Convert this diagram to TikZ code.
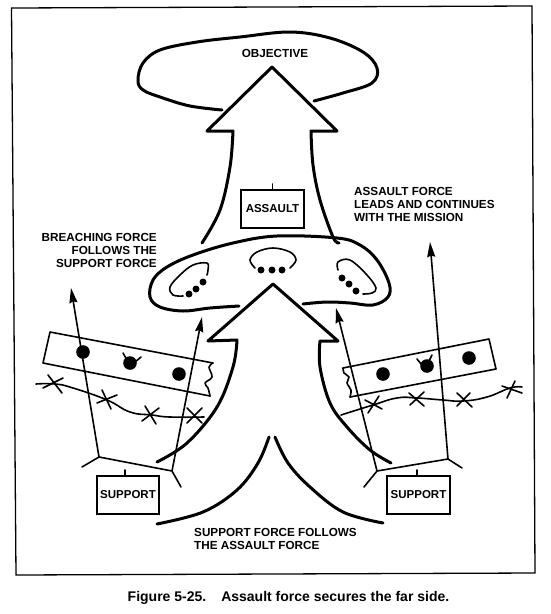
\documentclass[tikz,border=0pt]{standalone}
\usepackage{fontspec}
\setmainfont{Liberation Sans}
\usetikzlibrary{arrows.meta}
\tikzset{
  heavyline/.style={line width=3pt, line cap=round, line join=round},
  thinline/.style={line width=1.6pt, line cap=round, line join=round},
  forcearrow/.style={thinline, -{Stealth[length=15pt, width=8pt, inset=1.5pt]}},
  unitbox/.style={draw, line width=1.4pt, minimum height=38pt, font=\bfseries\fontsize{11.5}{12}\selectfont, inner sep=0pt},
  notetext/.style={font=\bfseries\fontsize{11.7}{12.6}\selectfont, inner sep=0pt},
}
\newcommand{\wirecross}[4]{\draw[thinline] (#1) -- (#2); \draw[thinline] (#3) -- (#4);}
\begin{document}
\begin{tikzpicture}[x=1pt, y=-1pt]
  \useasboundingbox (0,0) rectangle (550,614);
  \fill[white] (0,0) rectangle (550,614);
  \draw[line width=1.3pt] (11.5,8) -- (532,6) -- (535,573) -- (16,575) -- cycle;

  \draw[heavyline] plot[smooth, tension=0.6] coordinates {(222,110) (190,106) (163,98) (143,90) (138,80) (143,63) (160,50) (197,42) (240,37) (290,32) (330,38) (363,52) (377,68) (372,83) (343,93) (314,101)};
  \node[notetext] (objective) at (275,53) {OBJECTIVE};

  \draw[heavyline] plot[smooth, tension=0.6] coordinates {(202,243) (220,210) (230,167) (233,131)} -- (207,131) -- (272,67) -- (337,131) -- (311,131) -- plot[smooth, tension=0.6] coordinates {(311,131) (313,165) (320,200) (333,237) (339,243)};
  \node[unitbox, minimum width=63pt] (assault) at (272.5,209) {ASSAULT};
  \coordinate (assaulttick) at (272.5,184);
  \draw[thinline] (assaulttick) -- (assault.north);

  \draw[heavyline] plot[smooth, tension=0.6] coordinates {(239,306) (210,308) (183,311) (160,307) (150,297) (153,280) (167,267) (193,255) (233,243) (277,236) (337,238) (360,245) (377,260) (389,283) (388,297) (373,305) (350,303) (327,302) (303,304)};
  \draw[thinline] plot[smooth, tension=0.6] coordinates {(183,296) (173,295) (170,287) (180,275) (193,265) (207,263) (208,270) (207,275)};
  \draw[thinline] plot[smooth, tension=0.6] coordinates {(255,268) (250,260) (257,252) (273,248) (290,252) (296,260) (290,268)};
  \draw[thinline] plot[smooth, tension=0.6] coordinates {(338,270) (338,262) (350,260) (367,275) (376,288) (372,293) (363,294)};
  \foreach \dotpos in {(189,294),(196,289),(203,282),(261,270),(272,270),(282,270),(342,278),(349,284),(356,291)}
    \fill \dotpos circle (3.5);

  \draw[heavyline] plot[smooth, tension=0.6] coordinates {(157,462) (187,443) (217,407) (233,367) (237,340)} -- (208,341) -- (273,284) -- (338,341) -- (320,341) -- plot[smooth, tension=0.6] coordinates {(320,341) (320,367) (330,403) (347,427) (370,450) (391,463)};
  \draw[heavyline] plot[smooth, tension=0.6] coordinates {(269,437) (258,463) (237,490) (203,512) (157,524)};
  \draw[heavyline] plot[smooth, tension=0.6] coordinates {(275,437) (288,463) (310,487) (343,512) (383,523)};

  \draw[thinline] (210,396) -- (43,363) -- (50,332) -- (213,363);
  \draw[thinline] plot[smooth, tension=0.6] coordinates {(213,363) (209,367) (212,377) (205,383) (208,388) (210,396)};
  \draw[thinline] (350,397) -- (496,369) -- (489,339) -- (343,368);
  \draw[thinline] plot[smooth, tension=0.6] coordinates {(350,397) (351,390) (347,383) (349,377) (344,373) (343,368)};
  \foreach \dotpos in {(83,352),(130,363),(179,374),(383,374),(427,366),(469,358)}
    \fill \dotpos circle (6.8);
  \draw[thinline] (123,353) -- (127,360) (141,357) -- (135,362);
  \draw[thinline] (417,359) -- (422,365) (432,355) -- (428,363);

  \draw[thinline] plot[smooth, tension=0.8] coordinates {(36,384) (55,384) (73,388) (107,400) (130,412) (152,415) (170,417) (204,417)};
  \wirecross{48,375}{62,393}{43,388}{63,378}
  \wirecross{102,390}{111,409}{97,403}{117,395}
  \wirecross{145,406}{156,424}{142,421}{159,408}
  \wirecross{187,408}{202,423}{187,423}{202,408}
  \draw[thinline] plot[smooth, tension=0.8] coordinates {(341,415) (373,405) (397,398) (417,398) (443,400) (463,401) (487,397) (510,388) (522,387)};
  \wirecross{368,413}{379,396}{365,400}{382,409}
  \wirecross{410,405}{424,392}{409,393}{424,406}
  \wirecross{457,406}{470,393}{457,393}{472,407}
  \wirecross{507,398}{515,381}{502,386}{522,393}

  \coordinate (leftforka) at (99,457);
  \coordinate (leftforkb) at (172,471);
  \coordinate (rightforka) at (377,471);
  \coordinate (rightforkb) at (448,459);
  \coordinate (lefttipa) at (71,288);
  \coordinate (lefttipb) at (202,317);
  \coordinate (righttipa) at (336,308);
  \coordinate (righttipb) at (430,242);
  \draw[forcearrow] (leftforka) -- (lefttipa);
  \draw[forcearrow] (leftforkb) -- (lefttipb);
  \draw[forcearrow] (rightforka) -- (righttipa);
  \draw[forcearrow] (rightforkb) -- (righttipb);
  \draw[thinline] (82,467) -- (leftforka) -- (leftforkb) -- (181,487);
  \draw[thinline] (364,487) -- (rightforka) -- (rightforkb) -- (462,468);

  \node[unitbox, minimum width=62pt] (supportleft) at (128,495) {SUPPORT};
  \node[unitbox, minimum width=63pt] (supportright) at (418.5,495) {SUPPORT};
  \coordinate (lefttick) at (125,470);
  \coordinate (righttick) at (417,470);
  \draw[thinline] (lefttick) -- (lefttick |- supportleft.north);
  \draw[thinline] (righttick) -- (righttick |- supportright.north);

  \node[notetext, align=left, anchor=north west] (missionnote) at (354,187.5) {ASSAULT FORCE\\LEADS AND CONTINUES\\WITH THE MISSION};
  \node[notetext, align=right, anchor=north east] (breachnote) at (157,233.5) {BREACHING FORCE\\FOLLOWS THE\\SUPPORT FORCE};
  \node[notetext, align=left, anchor=north west] (followsnote) at (194,528.5) {SUPPORT FORCE FOLLOWS\\THE ASSAULT FORCE};
  \node[font=\bfseries\fontsize{14}{15}\selectfont, inner sep=0pt] (caption) at (288.5,598) {Figure 5-25.\hspace{0.7em} Assault force secures the far side.};
\end{tikzpicture}
\end{document}
